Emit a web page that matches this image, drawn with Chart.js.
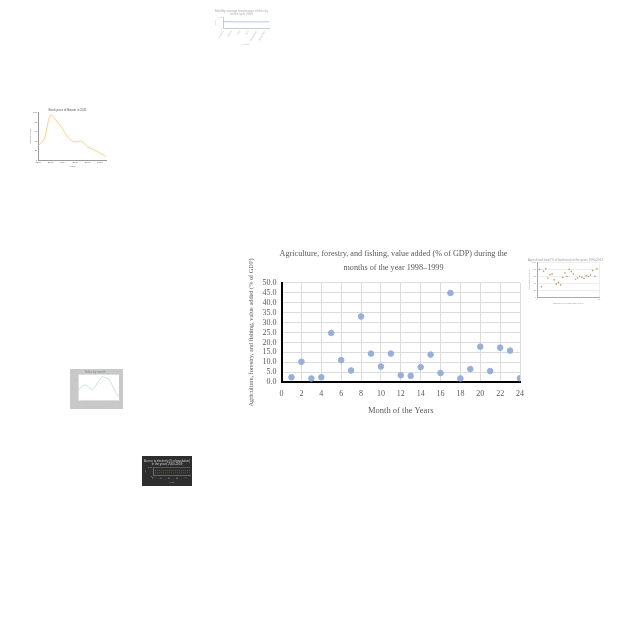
<!DOCTYPE html>
<html><head><meta charset="utf-8">
<script src="https://cdn.jsdelivr.net/npm/chart.js@4"></script>
<style>
html,body{margin:0;padding:0;background:#fff;width:640px;height:640px;overflow:hidden}
body{position:relative}
canvas{position:absolute}
</style></head><body>
<canvas id="main" width="294" height="174" style="left:245px;top:245px"></canvas>
<canvas id="t1" width="60" height="38" style="left:212px;top:8px"></canvas>
<canvas id="t2" width="80" height="62" style="left:28px;top:107px"></canvas>
<canvas id="t3" width="76" height="48" style="left:528px;top:257px"></canvas>
<canvas id="t4" width="53" height="40" style="left:70px;top:369px"></canvas>
<canvas id="t5" width="50" height="30" style="left:142px;top:456px"></canvas>
<script>
// ---- main chart data ----
const months = [1,2,3,4,5,6,7,8,9,10,11,12,13,14,15,16,17,18,19,20,21,22,23,24];
const valueAdded = [2.5,10.3,1.9,2.5,24.8,11.1,5.9,33.1,14.4,7.9,14.4,3.5,3.2,7.6,13.9,4.6,44.9,1.9,6.6,17.9,5.6,17.4,15.9,2.0];
const titleLines = ['Agriculture, forestry, and fishing, value added (% of GDP) during the', 'months of the year 1998\u20131999'];
const xTitle = 'Month of the Years';
const yTitle = 'Agriculture, forestry, and fishing, value added (% of GDP)';

// ---- thumbnail data ----
const t1Labels = ['January','February','March','April','May','June','July','August','September','October','November','December'];
const t1Values = [62,61,61,60,60,61,60,60,59,60,60,60];
const t2Labels = ['2000','2001','2002','2003','2004','2005','2006','2007','2008','2009','2010','2011'];
const t2Values = [30,45,95,82,65,45,38,40,28,22,15,7];
const t3X = [1,2,3,4,5,6,7,8,9,10,11,12,13,14,15,16,17,18,19,20,21,22,23,24,25,26,27,28];
const t3Y = [80,30,75,82,55,65,67,50,38,42,35,57,70,60,80,74,67,52,55,60,57,54,62,60,64,77,60,82];
const t4Labels = ['1','2','3','4','5','6','7','8','9','10','11','12','13'];
const t4Values = [40,55,60,50,38,56,75,92,88,82,58,30,12];
const t5Labels = ['A','B','C','D','E','F','G','H','I','J'];
const t5A = [60,60,60,60,60,60,60,60,60,60];
const t5B = [35,35,35,35,35,35,35,35,35,35];

Chart.defaults.animation = false;
Chart.defaults.responsive = false;
Chart.defaults.devicePixelRatio = 1;

const serif = 'Liberation Serif';
const grey = '#595959';

new Chart(document.getElementById('main'), {
  type: 'scatter',
  data: { datasets: [{
    data: months.map((m, i) => ({ x: m, y: valueAdded[i] })),
    backgroundColor: '#97b0da', borderColor: '#97b0da', pointRadius: 2.8, pointHoverRadius: 2.8
  }]},
  options: {
    layout: { padding: { top: 2, right: 0, left: 3, bottom: 0 } },
    plugins: {
      legend: { display: false },
      tooltip: { enabled: false },
      title: { display: true, text: titleLines, color: grey,
        font: { family: serif, size: 8.2, weight: 'normal', lineHeight: 1.7 }, padding: { top: 0, bottom: 8 } }
    },
    scales: {
      x: { type: 'linear', min: 0, max: 24,
        ticks: { stepSize: 2, color: grey, font: { family: serif, size: 8 }, padding: 7, autoSkip: false },
        grid: { color: '#dcdcdc', lineWidth: 1, drawTicks: false },
        border: { color: '#000', width: 2 },
        title: { display: true, text: xTitle, color: grey, font: { family: serif, size: 8.5 }, padding: { top: 0, bottom: 3 } } },
      y: { min: 0, max: 50,
        ticks: { stepSize: 5, color: grey, font: { family: serif, size: 8 }, padding: 5, autoSkip: false,
          callback: v => v.toFixed(1) },
        grid: { color: '#dcdcdc', lineWidth: 1, drawTicks: false },
        border: { color: '#000', width: 2 },
        title: { display: true, text: yTitle, color: grey, font: { family: serif, size: 6.3 }, padding: { top: 0, bottom: 2 } } },
      yRightSpace: { position: 'right', min: 0, max: 50, display: true,
        grid: { display: false, drawTicks: false }, border: { display: false }, ticks: { display: false },
        afterFit: s => { s.width = 19; } }
    }
  }
});

function tinyScales(opts) {
  const f = { size: 2.5 };
  return {
    x: Object.assign({ ticks: { font: f, color: opts.tc || '#999', maxRotation: opts.rot || 0, minRotation: opts.rot || 0, padding: 1 },
      grid: { display: opts.xgrid || false, color: opts.gc || '#eee', drawTicks: false }, border: { color: opts.bc || '#aaa' },
      title: { display: true, text: opts.xt || '', font: { size: 2.5 }, color: opts.tc || '#999', padding: 0 } }, opts.x || {}),
    y: Object.assign({ ticks: { font: f, color: opts.tc || '#999', padding: 1, maxTicksLimit: opts.yticks || 8 },
      grid: { display: opts.ygrid !== false, color: opts.gc || '#eee', drawTicks: false }, border: { color: opts.bc || '#aaa', dash: opts.ydash },
      title: { display: true, text: opts.yt || '', font: { size: 2.5 }, color: opts.tc || '#999', padding: 0 } }, opts.y || {})
  };
}
function tinyTitle(text, color) {
  return { display: true, text: text, color: color || '#888', font: { size: 3, weight: 'normal' }, padding: { top: 1, bottom: 1 } };
}
const quiet = { legend: { display: false }, tooltip: { enabled: false } };

new Chart(document.getElementById('t1'), {
  type: 'line',
  data: { labels: t1Labels, datasets: [{ data: t1Values, borderColor: '#9dbbe0', borderWidth: 0.8, pointRadius: 0 }] },
  options: { layout: { padding: { left: 2, right: 3 } }, plugins: Object.assign({ title: tinyTitle(['Monthly average temperature of the city', 'for the year 2009'], '#aaa') }, quiet),
    scales: tinyScales({ rot: 60, xt: 'Month', yt: 'Temp', y: { min: 0, max: 100 }, ygrid: false, tc: '#bbb', bc: '#ccc', yticks: 2 }) }
});

new Chart(document.getElementById('t2'), {
  type: 'line',
  data: { labels: t2Labels, datasets: [{ data: t2Values, borderColor: '#f6c86f', borderWidth: 0.8, pointRadius: 0, tension: 0.3 }] },
  options: { layout: { padding: { left: 1, right: 2, bottom: 1 } }, plugins: Object.assign({ title: tinyTitle('Stock price of Bitcoin in 2011', '#555') }, quiet),
    scales: tinyScales({ xt: 'Years', yt: 'Price in USD', ygrid: false, tc: '#666', bc: '#999', y: { min: 0, max: 100 }, yticks: 11 }) }
});

new Chart(document.getElementById('t3'), {
  type: 'scatter',
  data: { datasets: [{ data: t3X.map((x, i) => ({ x: x, y: t3Y[i] })), backgroundColor: '#f0a860', pointRadius: 0.7 }] },
  options: { layout: { padding: { right: 1 } }, plugins: Object.assign({ title: tinyTitle('Agricultural land (% of land area) in the years 1990-2017', '#999') }, quiet),
    scales: tinyScales({ xt: 'Number of years after 1990', yt: 'Agricultural land %', xgrid: true, gc: '#eee', x: { min: 0, max: 29 }, y: { min: 0, max: 100 } }) }
});

new Chart(document.getElementById('t4'), {
  type: 'line',
  data: { labels: t4Labels, datasets: [{ data: t4Values, borderColor: '#b9d7c8', borderWidth: 0.7, pointRadius: 0 }] },
  options: { layout: { padding: { left: 1, right: 4, top: 0, bottom: 1 } },
    plugins: Object.assign({ title: tinyTitle('Sales by month', '#888') }, quiet),
    scales: tinyScales({ xt: 'Month of the year 2015', yt: 'Sales', ygrid: false, y: { min: 0, max: 100 }, tc: '#bbb', bc: '#ddd' }) },
  plugins: [{ id: 'bg', beforeDraw(c) { const ctx = c.ctx; ctx.save(); ctx.fillStyle = '#c9c9c9'; ctx.fillRect(0, 0, c.width, c.height);
    const a = c.chartArea; ctx.fillStyle = '#fff'; ctx.fillRect(a.left, a.top, a.right - a.left, a.bottom - a.top); ctx.restore(); } }]
});

new Chart(document.getElementById('t5'), {
  type: 'line',
  data: { labels: t5Labels, datasets: [
    { data: t5A, borderColor: '#8a8f6a', borderWidth: 0.5, pointRadius: 0, borderDash: [1, 1] },
    { data: t5B, borderColor: '#6a8a6a', borderWidth: 0.5, pointRadius: 0, borderDash: [1, 1] }] },
  options: { layout: { padding: 2 },
    plugins: Object.assign({ title: tinyTitle(['Access to electricity (% of population)', 'in the years 2000-2009'], '#ccc') }, quiet),
    scales: tinyScales({ rot: 60, xt: 'Year', yt: '%', tc: '#aaa', gc: '#555', bc: '#666', y: { min: 0, max: 100 }, yticks: 4 }) },
  plugins: [{ id: 'bg', beforeDraw(c) { const ctx = c.ctx; ctx.save(); ctx.fillStyle = '#2e2e2e'; ctx.fillRect(0, 0, c.width, c.height); ctx.restore(); } }]
});
</script>
</body></html>
